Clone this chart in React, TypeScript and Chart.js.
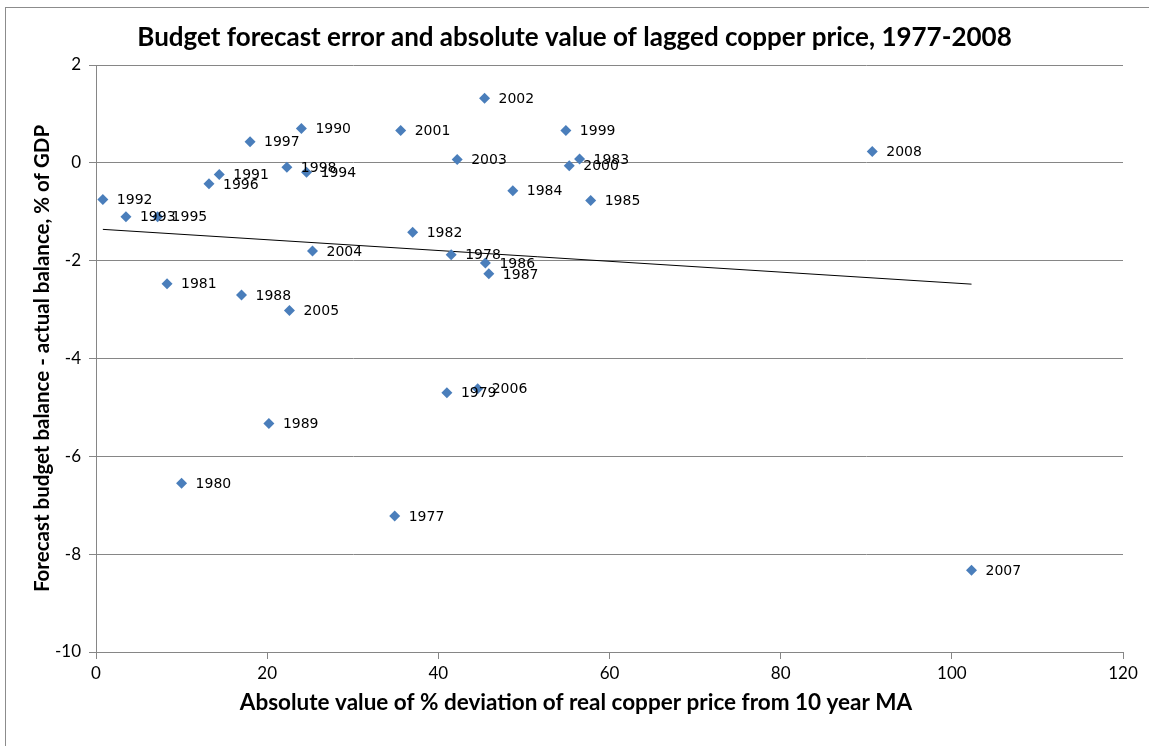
import React, { useEffect, useRef } from "react";
import { Chart, registerables } from "chart.js";

Chart.register(...registerables);

// Years of each observation
const years: number[] = [
  1977, 1978, 1979, 1980, 1981, 1982, 1983, 1984, 1985, 1986, 1987,
  1988, 1989, 1990, 1991, 1992, 1993, 1994, 1995, 1996, 1997, 1998,
  1999, 2000, 2001, 2002, 2003, 2004, 2005, 2006, 2007, 2008,
];

// Absolute value of % deviation of real copper price from 10 year MA
const deviation: number[] = [
  34.9, 41.5, 41.0, 10.0, 8.3, 37.0, 56.5, 48.7, 57.8, 45.5, 45.9,
  17.0, 20.2, 24.0, 14.4, 0.8, 3.5, 24.6, 7.2, 13.2, 18.0, 22.3,
  54.9, 55.3, 35.6, 45.4, 42.2, 25.3, 22.6, 44.6, 102.3, 90.7,
];

// Forecast budget balance - actual balance, % of GDP
const forecastError: number[] = [
  -7.22, -1.88, -4.7, -6.55, -2.47, -1.42, 0.08, -0.57, -0.77, -2.05, -2.27,
  -2.7, -5.33, 0.7, -0.24, -0.75, -1.1, -0.19, -1.1, -0.43, 0.43, -0.09,
  0.66, -0.06, 0.66, 1.32, 0.07, -1.8, -3.02, -4.62, -8.33, 0.23,
];

// Linear trend line end points
const trendX: number[] = [0.8, 102.3];
const trendY: number[] = [-1.36, -2.48];

const titleText =
  "Budget forecast error and absolute value of lagged copper price, 1977-2008";
const xTitle = "Absolute value of % deviation of real copper price from 10 year MA";
const yTitle = "Forecast budget balance - actual balance, % of GDP";

const W = 1149;
const H = 746;
const PLOT_LEFT = 96;
const PLOT_RIGHT = 1123;
const PLOT_TOP = 65;
const PLOT_BOTTOM = 652;

const labelPlugin = {
  id: "yearLabels",
  afterDatasetsDraw(chart: any) {
    const meta = chart.getDatasetMeta(0);
    const ctx = chart.ctx;
    ctx.save();
    ctx.font = "14px 'DejaVu Sans'";
    ctx.fillStyle = "#000000";
    ctx.textAlign = "left";
    ctx.textBaseline = "middle";
    meta.data.forEach((el: any, i: number) => {
      ctx.fillText(String(years[i]), el.x + 14, el.y + 1);
    });
    ctx.restore();
  },
};

// Chart title and x-axis title, centred on the whole chart box as in the original
const titlesPlugin = {
  id: "chartTitles",
  afterDraw(chart: any) {
    const ctx = chart.ctx;
    ctx.save();
    ctx.fillStyle = "#000000";
    ctx.textAlign = "center";
    ctx.textBaseline = "middle";
    ctx.font = "bold 26px Lato";
    ctx.fillText(titleText, 574.5, 38);
    ctx.font = "bold 22.5px Lato";
    ctx.fillText(xTitle, 576, 703);
    ctx.restore();
  },
};

export default function App() {
  const canvasRef = useRef<HTMLCanvasElement | null>(null);

  useEffect(() => {
    const canvas = canvasRef.current;
    if (!canvas) return;
    const points = deviation.map((x, i) => ({ x, y: forecastError[i] }));
    const trend = trendX.map((x, i) => ({ x, y: trendY[i] }));
    const grey = "#868686";
    const chart = new Chart(canvas, {
      type: "scatter",
      data: {
        datasets: [
          {
            label: "Forecast error",
            data: points,
            pointStyle: "rectRot",
            pointRadius: 5.5,
            pointBackgroundColor: "#4A7EBB",
            pointBorderColor: "#4A7EBB",
            pointBorderWidth: 0,
            showLine: false,
          },
          {
            label: "Trend",
            data: trend,
            showLine: true,
            borderColor: "#000000",
            borderWidth: 1,
            pointRadius: 0,
            fill: false,
          },
        ],
      },
      options: {
        responsive: false,
        animation: false,
        devicePixelRatio: 1,
        layout: {
          padding: { left: 0, right: W - PLOT_RIGHT, top: PLOT_TOP, bottom: 0 },
        },
        plugins: {
          legend: { display: false },
          tooltip: { enabled: false },
          title: { display: false },
        },
        scales: {
          x: {
            type: "linear",
            min: 0,
            max: 120,
            ticks: {
              stepSize: 20,
              color: "#000000",
              font: { family: "Lato", size: 17 },
              padding: 4,
            },
            grid: {
              drawOnChartArea: false,
              drawTicks: true,
              tickLength: 7,
              color: grey,
            },
            border: { display: true, color: grey },
            title: { display: false, text: xTitle },
            afterFit(scale: any) {
              scale.height = H - PLOT_BOTTOM;
            },
          },
          y: {
            type: "linear",
            min: -10,
            max: 2,
            ticks: {
              stepSize: 2,
              color: "#000000",
              font: { family: "Lato", size: 17 },
              padding: 8,
            },
            grid: {
              drawOnChartArea: true,
              drawTicks: true,
              tickLength: 7,
              color: grey,
            },
            border: { display: true, color: grey },
            title: {
              display: true,
              text: yTitle,
              color: "#000000",
              font: { family: "Lato", size: 20.5, weight: "bold" },
              padding: { top: 29.7, bottom: 0 },
            },
            afterFit(scale: any) {
              scale.width = PLOT_LEFT;
            },
          },
        },
      },
      plugins: [labelPlugin, titlesPlugin],
    });
    return () => {
      chart.destroy();
    };
  }, []);

  return (
    <div
      style={{
        position: "fixed",
        left: 0,
        top: 0,
        width: W,
        height: H,
        overflow: "hidden",
        background: "#ffffff",
      }}
    >
      <canvas
        ref={canvasRef}
        width={W}
        height={H}
        style={{ position: "absolute", left: 0, top: 0, width: W, height: H }}
      />
      <div
        style={{
          position: "absolute",
          left: 5,
          top: 7,
          width: W + 20,
          height: H + 20,
          border: "1px solid #8C8C8C",
          pointerEvents: "none",
        }}
      />
    </div>
  );
}
